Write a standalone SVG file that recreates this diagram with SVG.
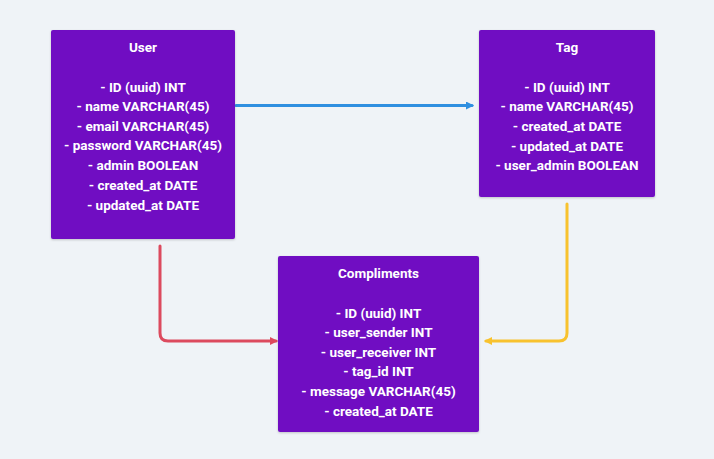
<svg xmlns="http://www.w3.org/2000/svg" width="714" height="459" viewBox="0 0 714 459">
<style>
.box{fill:#6f10c2;}
.t{font-family:Roboto,"Liberation Sans",sans-serif;font-weight:bold;font-size:13.5px;fill:#ffffff;text-anchor:middle;}
.c{fill:none;stroke-width:3;stroke-linecap:round;stroke-linejoin:round;}
</style>
<defs>
<filter id="sh" x="-10%" y="-10%" width="120%" height="120%"><feDropShadow dx="0" dy="1" stdDeviation="1" flood-color="#000" flood-opacity="0.2"/></filter>
<marker id="mb" markerWidth="8" markerHeight="8" refX="6" refY="4" orient="auto" markerUnits="userSpaceOnUse"><path d="M0,0 L8,4 L0,8 z" fill="#2f8fe0"/></marker>
<marker id="mr" markerWidth="8" markerHeight="8" refX="6" refY="4" orient="auto" markerUnits="userSpaceOnUse"><path d="M0,0 L8,4 L0,8 z" fill="#dc4a5e"/></marker>
<marker id="my" markerWidth="8" markerHeight="8" refX="6" refY="4" orient="auto" markerUnits="userSpaceOnUse"><path d="M0,0 L8,4 L0,8 z" fill="#f8c22e"/></marker>
</defs>
<rect width="714" height="459" fill="#eff3f7"/>
<g id="connectors">
<path class="c" stroke="#2f8fe0" d="M236,105.5 L472,105.5" marker-end="url(#mb)"/>
<path class="c" stroke="#dc4a5e" d="M160,246 L160,333 Q160,341 168,341 L276,341" marker-end="url(#mr)"/>
<path class="c" stroke="#f8c22e" d="M567,204 L567,333 Q567,341 559,341 L486,341" marker-end="url(#my)"/>
</g>
<g id="user">
<rect class="box" x="51" y="30" width="184" height="209" rx="2" filter="url(#sh)"/>
<text class="t" x="143" y="52">User</text>
<text class="t" x="143" y="92">- ID (uuid) INT</text>
<text class="t" x="143" y="111">- name VARCHAR(45)</text>
<text class="t" x="143" y="131">- email VARCHAR(45)</text>
<text class="t" x="143" y="150">- password VARCHAR(45)</text>
<text class="t" x="143" y="170">- admin BOOLEAN</text>
<text class="t" x="143" y="190">- created_at DATE</text>
<text class="t" x="143" y="210">- updated_at DATE</text>
</g>
<g id="tag">
<rect class="box" x="479" y="30" width="176" height="167" rx="2" filter="url(#sh)"/>
<text class="t" x="567" y="52">Tag</text>
<text class="t" x="567" y="92">- ID (uuid) INT</text>
<text class="t" x="567" y="111">- name VARCHAR(45)</text>
<text class="t" x="567" y="131">- created_at DATE</text>
<text class="t" x="567" y="151">- updated_at DATE</text>
<text class="t" x="567" y="170">- user_admin BOOLEAN</text>
</g>
<g id="compliments">
<rect class="box" x="278" y="256" width="201" height="176" rx="2" filter="url(#sh)"/>
<text class="t" x="378.5" y="278">Compliments</text>
<text class="t" x="378.5" y="318">- ID (uuid) INT</text>
<text class="t" x="378.5" y="337">- user_sender INT</text>
<text class="t" x="378.5" y="357">- user_receiver INT</text>
<text class="t" x="378.5" y="376">- tag_id INT</text>
<text class="t" x="378.5" y="396">- message VARCHAR(45)</text>
<text class="t" x="378.5" y="416">- created_at DATE</text>
</g>
</svg>
